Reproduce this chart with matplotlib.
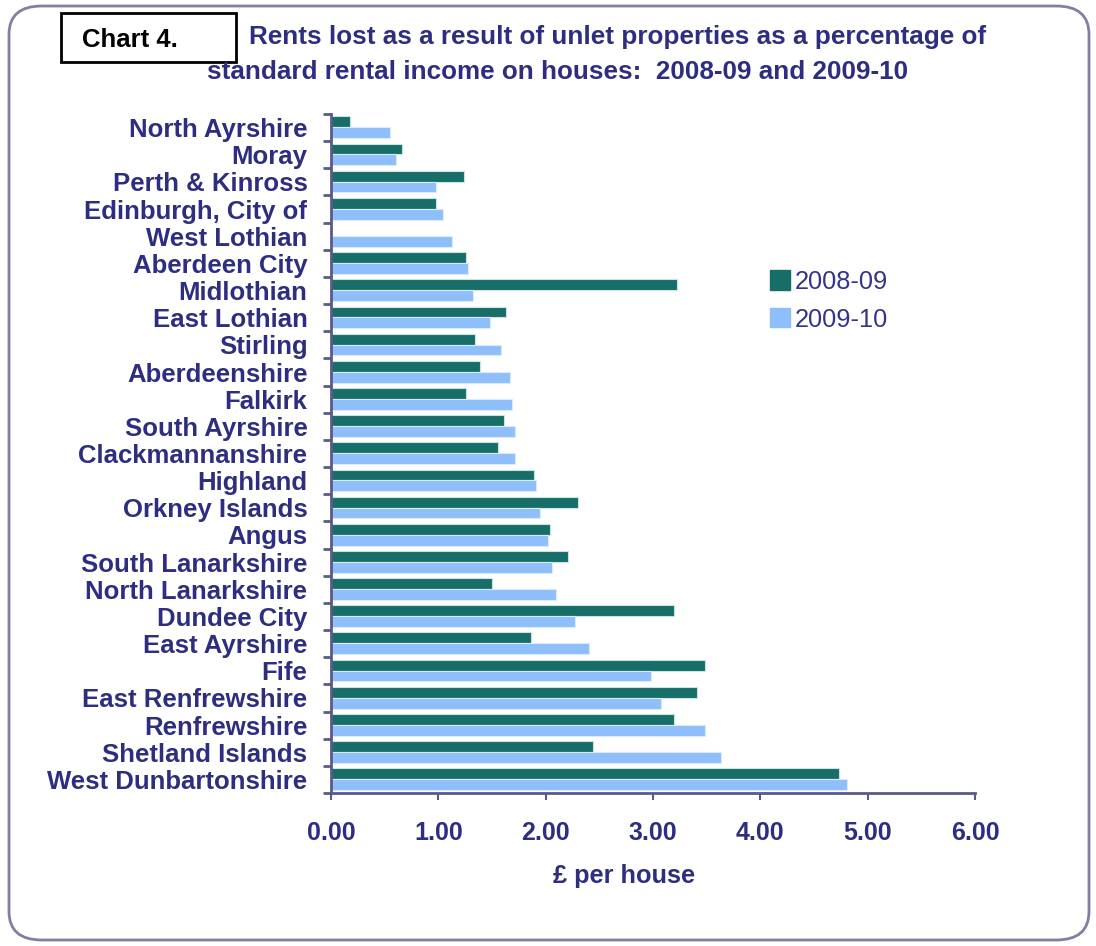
import numpy as np
import matplotlib.pyplot as plt
from matplotlib.patches import FancyBboxPatch, Rectangle, Patch

plt.rcParams['font.family'] = ['Liberation Sans', 'DejaVu Sans']

# data (£ per house)
areas = ['North Ayrshire', 'Moray', 'Perth & Kinross', 'Edinburgh, City of',
         'West Lothian', 'Aberdeen City', 'Midlothian', 'East Lothian',
         'Stirling', 'Aberdeenshire', 'Falkirk', 'South Ayrshire',
         'Clackmannanshire', 'Highland', 'Orkney Islands', 'Angus',
         'South Lanarkshire', 'North Lanarkshire', 'Dundee City',
         'East Ayrshire', 'Fife', 'East Renfrewshire', 'Renfrewshire',
         'Shetland Islands', 'West Dunbartonshire']
y0809 = [0.18, 0.66, 1.24, 0.98, 0.00, 1.26, 3.22, 1.63, 1.34, 1.39, 1.26,
         1.61, 1.56, 1.89, 2.30, 2.04, 2.21, 1.50, 3.20, 1.86, 3.48, 3.41,
         3.20, 2.44, 4.73]
y0910 = [0.55, 0.61, 0.98, 1.04, 1.13, 1.28, 1.32, 1.48, 1.58, 1.67, 1.69,
         1.71, 1.71, 1.91, 1.95, 2.02, 2.06, 2.10, 2.27, 2.40, 2.98, 3.07,
         3.48, 3.63, 4.81]
xticks = [0, 1, 2, 3, 4, 5, 6]

navy = '#2e2e80'
dark = '#176e69'
light = '#8ebffa'
W, H = 1096, 946

fig = plt.figure(figsize=(W / 100, H / 100), dpi=100)

# rounded outer frame
fig.patches.append(FancyBboxPatch((9 / W, 6 / H), 1080 / W, 934 / H,
                                  boxstyle='round,pad=0,rounding_size=0.03',
                                  transform=fig.transFigure, fill=False,
                                  edgecolor='#8080a0', linewidth=2))

ax = fig.add_axes([331 / W, (H - 793) / H, (975 - 331) / W, (793 - 114) / H])
n = len(areas)
pos = np.arange(n)
ax.barh(pos - 0.21, y0809, height=0.4, color=dark, edgecolor='#c9e3de',
        linewidth=0.8, label='2008-09')
ax.barh(pos + 0.19, y0910, height=0.4, color=light, edgecolor='#dceaff',
        linewidth=0.8, label='2009-10')

ax.set_xlim(0, 6)
ax.set_ylim(n - 0.5, -0.5)
ax.set_xticks(xticks)
ax.set_xticklabels(['%.2f' % t for t in xticks], fontsize=18,
                   fontweight='bold', color=navy)
ax.set_yticks(pos)
ax.set_yticklabels(areas, fontsize=18.5, fontweight='bold', color=navy)
ax.set_yticks(np.arange(n + 1) - 0.5, minor=True)
ax.tick_params(axis='y', which='major', length=0, pad=17)
ax.tick_params(axis='y', which='minor', length=6, width=2, color='#5a5a8a')
ax.tick_params(axis='x', length=5, width=1.5, color='#5a5a8a', pad=15)
ax.set_xlabel('£ per house', fontsize=18.3, fontweight='bold', color=navy)
ax.xaxis.set_label_coords((624 - 331) / 644, -(876 - 793) / 679)
ax.xaxis.label.set_va('center')
for s in ['top', 'right']:
    ax.spines[s].set_visible(False)
for s in ['left', 'bottom']:
    ax.spines[s].set_color('#5a5a8a')
    ax.spines[s].set_linewidth(2)

handles = [Patch(facecolor=dark, edgecolor=dark), Patch(facecolor=light, edgecolor=light)]
fig.legend(handles, ['2008-09', '2009-10'], loc='upper left',
           bbox_to_anchor=(762 / W, 1 - 262 / H), frameon=False, fontsize=18.3,
           handlelength=0.8, handleheight=0.8, handletextpad=0.2,
           labelspacing=0.55, borderaxespad=0, borderpad=0.3,
           labelcolor='#34348a')

# title
fig.text(618 / W, 1 - 37 / H,
         'Rents lost as a result of unlet properties as a percentage of',
         ha='center', va='center', fontsize=18.8, fontweight='bold', color=navy)
fig.text(558 / W, 1 - 72 / H,
         'standard rental income on houses:  2008-09 and 2009-10',
         ha='center', va='center', fontsize=18.8, fontweight='bold', color=navy)

# "Chart 4." box
fig.patches.append(Rectangle((61 / W, 1 - 62 / H), 175 / W, 49 / H,
                             transform=fig.transFigure, fill=True,
                             facecolor='white', edgecolor='black', linewidth=2))
fig.text(82 / W, 1 - 40 / H, 'Chart 4.', ha='left', va='center', fontsize=18.5,
         fontweight='bold', color='black')

fig.savefig('out.png', dpi=100)
